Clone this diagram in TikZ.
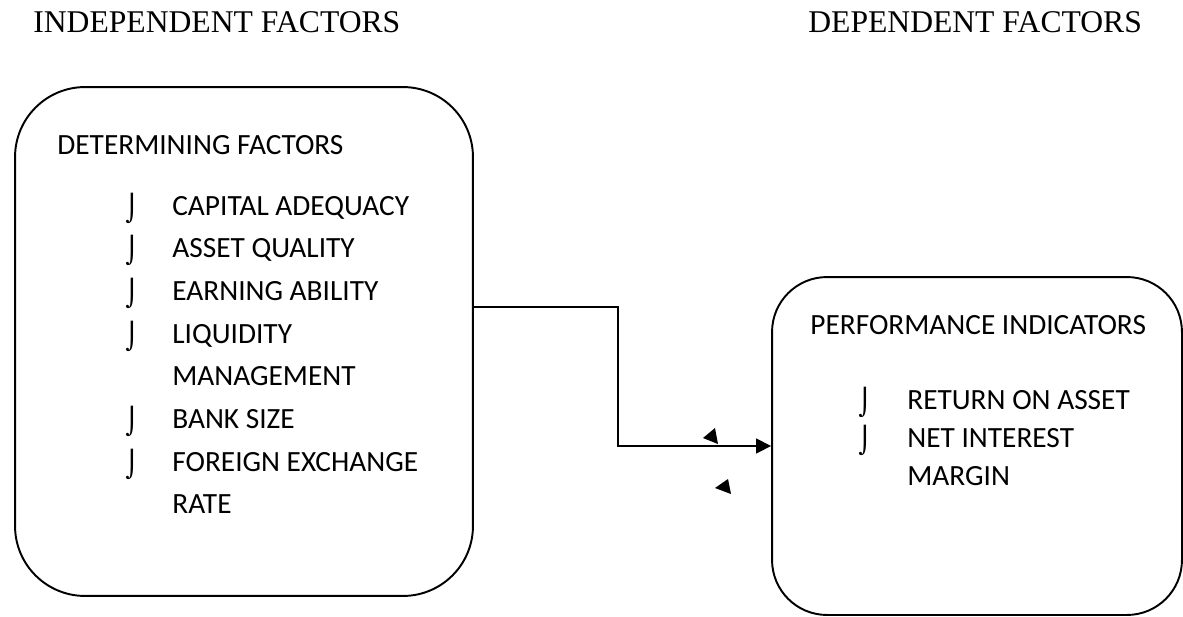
\documentclass[tikz,border=0pt]{standalone}
\usepackage{fontspec}
\setmainfont{Carlito}
\newfontfamily\headfont{Liberation Serif}
\newfontfamily\symfont{DejaVu Sans}
\usetikzlibrary{positioning,arrows.meta}
\newcommand{\hook}{\scalebox{1}[1.05]{\symfont ⌡}}

\begin{document}
\begin{tikzpicture}[x=0.02cm,y=-0.02cm,
  box/.style={draw,line width=1.1pt,inner sep=0pt},
  lb/.style={anchor=base west,inner sep=0pt,font=\fontsize{16.7}{19}\selectfont},
  hd/.style={anchor=base west,inner sep=0pt,font=\headfont\fontsize{18}{21}\selectfont},
  tick/.style={inner sep=0pt,font=\fontsize{14}{17}\selectfont},
  conn/.style={line width=0.85pt}]
\useasboundingbox (0,0) rectangle (1183,616);
% headings
\node[hd] (indep) at (33,32) {INDEPENDENT FACTORS};
\node[hd] (dep) at (808,32) {DEPENDENT FACTORS};
% boxes
\node[box,rounded corners=1.4cm,minimum width=9.16cm,minimum height=10.18cm] (det) at (244,341.5) {};
\node[box,rounded corners=1.1cm,minimum width=8.2cm,minimum height=6.76cm] (perf) at (977,446) {};
% left box text
\node[lb] (dettitle) at (57,154) {DETERMINING FACTORS};
\foreach \i/\t in {0/CAPITAL ADEQUACY,1/ASSET QUALITY,2/EARNING ABILITY,3/LIQUIDITY,4/MANAGEMENT,5/BANK SIZE,6/FOREIGN EXCHANGE,7/RATE}{
  \node[lb] (f\i) at (172,{215+42.7*\i}) {\t};
}
\foreach \i in {0,1,2,3,5,6}{
  \node[tick] (b\i) at (132,{208+42.7*\i}) {\hook};
}
% right box text
\node[lb] (perftitle) at (810,334) {PERFORMANCE INDICATORS};
\node[lb] (r0) at (907,409) {RETURN ON ASSET};
\node[lb] (r1) at (907,447) {NET INTEREST};
\node[lb] (r2) at (907,485) {MARGIN};
\node[tick] (c0) at (865,402) {\hook};
\node[tick] (c1) at (865,440) {\hook};
% connector
\coordinate (bend) at (618,307);
\draw[conn,-{Triangle[length=0.3cm,width=0.3cm]}] (det.east |- bend) -- (bend) |- (perf.west);
% loose arrow heads
\fill (715,428) -- (703,438) -- (718,444) -- cycle;
\fill (728,479) -- (715,488) -- (731,494) -- cycle;
\end{tikzpicture}
\end{document}
